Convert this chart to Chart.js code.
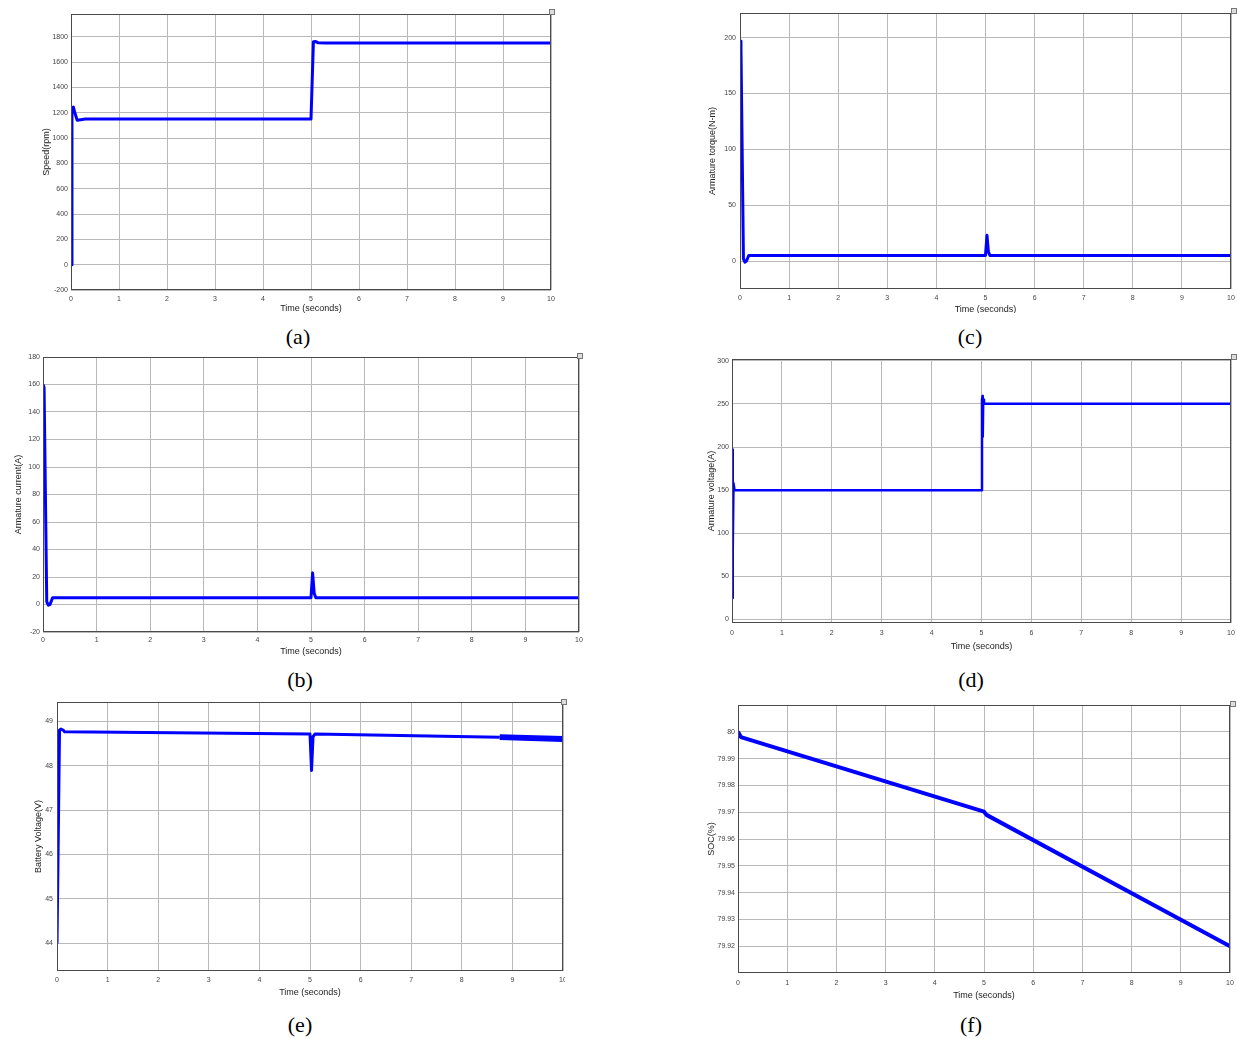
<!DOCTYPE html>
<html>
<head>
<meta charset="utf-8">
<script src="https://cdn.jsdelivr.net/npm/chart.js@4.4.1/dist/chart.umd.min.js"></script>
<style>
  body { margin: 0; background: #fff; width: 1237px; height: 1039px; overflow: hidden; position: relative; }
  canvas { position: absolute; }
  .cap { position: absolute; font-family: "Liberation Serif", "Times New Roman", serif; font-size: 22px; color: #000; transform: translate(-50%, -50%); white-space: nowrap; }
  .ico { position: absolute; width: 4px; height: 4px; border: 1px solid #777; background: #ddd; }
</style>
</head>
<body>
<script>
// time axis shared by all six scope plots
const timeTicks = [0, 1, 2, 3, 4, 5, 6, 7, 8, 9, 10];

// (a) speed
const speedT   = [0, 0.02, 0.05, 0.08, 0.13, 0.2, 0.3, 5.0, 5.05, 5.1, 5.15, 5.3, 10];
const speedVal = [0, 1240, 1245, 1200, 1140, 1145, 1150, 1150, 1760, 1762, 1752, 1750, 1750];
const speedTicks = [-200, 0, 200, 400, 600, 800, 1000, 1200, 1400, 1600, 1800];

// (b) armature current
const currentT   = [0, 0.02, 0.07, 0.1, 0.13, 0.18, 5.0, 5.03, 5.06, 5.09, 10];
const currentVal = [160, 158, 2, -0.5, 0, 5, 5, 23, 8, 5, 5];
const currentTicks = [-20, 0, 20, 40, 60, 80, 100, 120, 140, 160, 180];

// (c) armature torque
const torqueT   = [0, 0.02, 0.07, 0.1, 0.13, 0.18, 5.0, 5.03, 5.06, 5.09, 10];
const torqueVal = [197, 190, 2, -1, 0, 5, 5, 23, 8, 5, 5];
const torqueTicks = [0, 50, 100, 150, 200];

// (d) armature voltage
const armVoltT   = [0, 0.01, 0.02, 0.03, 0.05, 5.0, 5.01, 5.02, 5.025, 5.035, 5.05, 10];
const armVoltVal = [25, 197, 80, 158, 150, 150, 255, 259, 212, 255, 250, 250];
const armVoltTicks = [0, 50, 100, 150, 200, 250, 300];

// (e) battery voltage
const battT   = [0, 0.05, 0.08, 0.12, 0.15, 5.0, 5.03, 5.06, 5.1, 8.75, 10];
const battVal = [44.0, 48.8, 48.82, 48.8, 48.76, 48.71, 47.89, 48.65, 48.71, 48.64, 48.6];
const battTicks = [44, 45, 46, 47, 48, 49];

// (f) state of charge
const socT   = [0, 0.03, 0.06, 5.0, 5.05, 10];
const socVal = [80.0, 79.999, 79.998, 79.9702, 79.969, 79.92];
const socTicks = [79.92, 79.93, 79.94, 79.95, 79.96, 79.97, 79.98, 79.99, 80];

const FONT = "'Liberation Sans', Arial, sans-serif";

const boxPlugin = {
  id: 'box',
  afterDraw(chart) {
    const a = chart.chartArea, ctx = chart.ctx;
    ctx.save();
    ctx.strokeStyle = '#4a4a4a';
    ctx.lineWidth = 1;
    ctx.strokeRect(Math.round(a.left) + 0.5, Math.round(a.top) + 0.5,
                   Math.round(a.right - a.left) - 1, Math.round(a.bottom - a.top) - 1);
    ctx.restore();
  }
};

function panel(p) {
  const c = document.createElement('canvas');
  const w = p.right - p.left, h = p.bottom - p.top;
  c.width = w; c.height = h;
  c.style.left = p.left + 'px';
  c.style.top = p.top + 'px';
  document.body.appendChild(c);

  const pts = p.t.map((x, i) => ({x: x, y: p.v[i]}));

  new Chart(c.getContext('2d'), {
    type: 'line',
    data: {
      datasets: [{
        data: pts,
        borderColor: '#0000ff',
        borderWidth: p.lw,
        pointRadius: 0,
        tension: 0,
        borderJoinStyle: 'round',
        segment: p.segment || {},
      }]
    },
    options: {
      responsive: false,
      animation: false,
      events: [],
      layout: { padding: { top: p.padTop, right: p.padRight, left: 0, bottom: 0 } },
      plugins: { legend: { display: false }, tooltip: { enabled: false } },
      scales: {
        x: {
          type: 'linear',
          min: 0, max: 10,
          afterBuildTicks: ax => { ax.ticks = timeTicks.map(v => ({value: v})); },
          afterFit: ax => { ax.height = p.xH; ax.paddingLeft = 0; ax.paddingRight = 0; },
          border: { display: false },
          grid: { color: '#b9b9b9', lineWidth: 1, drawTicks: false },
          ticks: { autoSkip: false, maxRotation: 0, padding: p.xTickPad, color: '#444',
                   font: { family: FONT, size: 7 } },
          title: { display: true, text: 'Time (seconds)', color: '#222',
                   padding: { top: 0, bottom: p.xTitlePad },
                   font: { family: FONT, size: 9 } }
        },
        y: {
          type: 'linear',
          min: p.yMin, max: p.yMax,
          afterBuildTicks: ax => { ax.ticks = p.yTicks.map(v => ({value: v})); },
          afterFit: ax => { ax.width = p.yW; ax.paddingTop = 0; ax.paddingBottom = 0; },
          border: { display: false },
          grid: { color: '#b9b9b9', lineWidth: 1, drawTicks: false },
          ticks: { autoSkip: false, padding: p.yTickPad, color: '#444',
                   font: { family: FONT, size: 7 },
                   callback: v => String(v) },
          title: { display: true, text: p.yTitle, color: '#222',
                   padding: { top: 0, bottom: 0 },
                   font: { family: FONT, size: 9 } }
        }
      }
    },
    plugins: [boxPlugin]
  });
}

// (a)
panel({ left: 41, top: 8, right: 560, bottom: 314, padTop: 6, padRight: 9,
        yW: 30, yTickPad: 3, xH: 24, xTickPad: 5, xTitlePad: 0, lw: 3,
        t: speedT, v: speedVal, yTicks: speedTicks, yMin: -200, yMax: 1980, yTitle: 'Speed(rpm)' });
// (c)
panel({ left: 707, top: 7, right: 1237, bottom: 313, padTop: 6, padRight: 6,
        yW: 33, yTickPad: 4, xH: 24, xTickPad: 5, xTitlePad: -2.4, lw: 3,
        t: torqueT, v: torqueVal, yTicks: torqueTicks, yMin: -25, yMax: 222, yTitle: 'Armature torque(N-m)' });
// (b)
panel({ left: 13, top: 350, right: 590, bottom: 657, padTop: 7, padRight: 11,
        yW: 30, yTickPad: 3, xH: 25, xTickPad: 4, xTitlePad: 0, lw: 3,
        t: currentT, v: currentVal, yTicks: currentTicks, yMin: -20, yMax: 180, yTitle: 'Armature current(A)' });
// (d)
panel({ left: 706, top: 352, right: 1237, bottom: 652, padTop: 7, padRight: 6,
        yW: 26, yTickPad: 3, xH: 29, xTickPad: 6, xTitlePad: 0, lw: 2.5,
        t: armVoltT, v: armVoltVal, yTicks: armVoltTicks, yMin: -4, yMax: 302, yTitle: 'Armature voltage(A)' });
// (e) right edge of the scope is cut off in the source, so the last tick label is clipped
panel({ left: 33, top: 696, right: 565, bottom: 998, padTop: 6, padRight: 2,
        yW: 24, yTickPad: 4, xH: 27, xTickPad: 5, xTitlePad: 0, lw: 3,
        segment: { borderWidth: s => (s.p0.parsed.x >= 8.7 ? 6 : 3) },
        t: battT, v: battVal, yTicks: battTicks, yMin: 43.38, yMax: 49.43, yTitle: 'Battery Voltage(V)' });
// (f)
panel({ left: 706, top: 699, right: 1237, bottom: 1001, padTop: 6, padRight: 7,
        yW: 32, yTickPad: 3, xH: 28, xTickPad: 6, xTitlePad: 0, lw: 4,
        t: socT, v: socVal, yTicks: socTicks, yMin: 79.91, yMax: 80.01, yTitle: 'SOC(%)' });

// sub-figure captions
const captions = [['(a)', 298, 337], ['(c)', 970, 337], ['(b)', 300, 680],
                  ['(d)', 971, 680], ['(e)', 300, 1025], ['(f)', 971, 1025]];
captions.forEach(([txt, x, y]) => {
  const d = document.createElement('div');
  d.className = 'cap';
  d.textContent = txt;
  d.style.left = x + 'px';
  d.style.top = y + 'px';
  document.body.appendChild(d);
});

// little scope icons in the top-right corners
[[549, 9], [1231, 8], [577, 353], [1231, 354], [561, 699], [1230, 701]].forEach(([x, y]) => {
  const d = document.createElement('div');
  d.className = 'ico';
  d.style.left = x + 'px';
  d.style.top = y + 'px';
  document.body.appendChild(d);
});
</script>
</body>
</html>
